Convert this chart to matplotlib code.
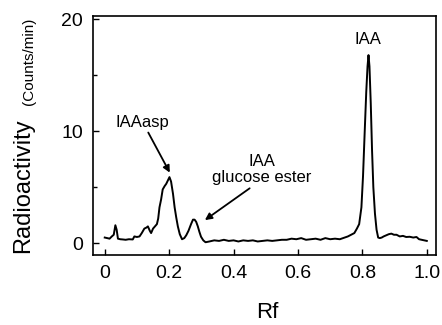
import matplotlib
matplotlib.use("Agg")
import matplotlib.pyplot as plt
from matplotlib.ticker import MultipleLocator

plt.rcParams['font.family'] = ['Liberation Sans', 'DejaVu Sans']

rf = [0.000, 0.008, 0.015, 0.022, 0.028, 0.033, 0.037, 0.041, 0.048, 0.056, 0.065,
      0.075, 0.087, 0.092, 0.100, 0.108, 0.115, 0.123, 0.130, 0.134, 0.140, 0.144,
      0.150, 0.156, 0.162, 0.166, 0.170, 0.175, 0.180, 0.186, 0.191, 0.196, 0.201,
      0.206, 0.212, 0.217, 0.222, 0.227, 0.233, 0.240, 0.247, 0.253, 0.260, 0.268,
      0.274, 0.279, 0.284, 0.289, 0.294, 0.299, 0.306, 0.313, 0.325, 0.340, 0.355,
      0.370, 0.385, 0.400, 0.415, 0.430, 0.445, 0.460, 0.475, 0.490, 0.505, 0.520,
      0.535, 0.550, 0.565, 0.580, 0.595, 0.610, 0.625, 0.640, 0.655, 0.670, 0.685,
      0.700, 0.715, 0.730, 0.745, 0.755, 0.765, 0.775, 0.783, 0.790, 0.797, 0.802,
      0.807, 0.812, 0.816, 0.819, 0.822, 0.826, 0.830, 0.834, 0.839, 0.844, 0.849,
      0.854, 0.860, 0.866, 0.874, 0.882, 0.890, 0.898, 0.906, 0.916, 0.926, 0.936,
      0.947, 0.958, 0.968, 0.976, 0.984, 0.992, 1.000]
counts = [0.5, 0.45, 0.4, 0.6, 0.75, 1.6, 1.2, 0.4, 0.35, 0.33, 0.3,
          0.35, 0.33, 0.6, 0.55, 0.6, 0.9, 1.3, 1.4, 1.5, 1.1, 0.9,
          1.3, 1.5, 1.7, 2.2, 3.2, 3.9, 4.8, 5.1, 5.3, 5.6, 5.9,
          5.5, 4.4, 3.2, 2.3, 1.5, 0.8, 0.35, 0.45, 0.7, 1.1, 1.7,
          2.1, 2.1, 1.9, 1.5, 1.0, 0.57, 0.25, 0.08, 0.15, 0.25, 0.2,
          0.3, 0.2, 0.25, 0.15, 0.25, 0.2, 0.25, 0.15, 0.2, 0.25, 0.2,
          0.25, 0.3, 0.3, 0.4, 0.35, 0.45, 0.3, 0.35, 0.4, 0.3, 0.45,
          0.35, 0.4, 0.35, 0.5, 0.6, 0.75, 0.9, 1.3, 1.7, 3.2, 6.0,
          9.8, 13.5, 15.8, 16.8, 15.8, 12.5, 8.3, 5.0, 2.65, 1.2, 0.5,
          0.45, 0.5, 0.6, 0.7, 0.8, 0.85, 0.75, 0.75, 0.6, 0.65, 0.55,
          0.57, 0.5, 0.55, 0.35, 0.3, 0.25, 0.2]

peak_labels = ["IAAasp", "IAA\nglucose ester", "IAA"]
x_ticks = [0, 0.2, 0.4, 0.6, 0.8, 1.0]
x_tick_labels = ["0", "0.2", "0.4", "0.6", "0.8", "1.0"]
y_ticks = [0, 10, 20]

fig = plt.figure(figsize=(4.42, 3.25), dpi=100)
ax = fig.add_axes([0.210, 0.215, 0.776, 0.736])
ax.plot(rf, counts, color='black', lw=1.4)

ax.set_xlim(-0.037, 1.028)
ax.set_ylim(-1.07, 20.3)
ax.set_xticks(x_ticks)
ax.set_xticklabels(x_tick_labels)
ax.set_yticks(y_ticks)
ax.yaxis.set_minor_locator(MultipleLocator(5))
ax.tick_params(direction='in', labelsize=14, length=4, width=1, pad=7)
ax.tick_params(axis='y', which='minor', direction='in', length=3, width=1)
for s in ax.spines.values():
    s.set_linewidth(1.2)

fig.text(0.605, 0.04, "Rf", fontsize=16, ha='center', va='center')
fig.text(0.052, 0.428, "Radioactivity", rotation=90, fontsize=17, ha='center', va='center')
fig.text(0.066, 0.81, "(Counts/min)", rotation=90, fontsize=11, ha='center', va='center')

arrowprops = dict(arrowstyle='-|>', color='black', lw=1.3, mutation_scale=10, shrinkA=0, shrinkB=0)
ax.annotate(peak_labels[0], xy=(0.202, 6.3), xytext=(0.118, 10.8),
            ha='center', va='center', fontsize=12, arrowprops=arrowprops)
ax.annotate("", xy=(0.311, 2.06), xytext=(0.450, 4.9), arrowprops=arrowprops)
ax.text(0.488, 6.6, peak_labels[1], ha='center', va='center', fontsize=12, linespacing=1.1)
ax.text(0.817, 18.2, peak_labels[2], ha='center', va='center', fontsize=12)

fig.savefig("out.png", dpi=100)
